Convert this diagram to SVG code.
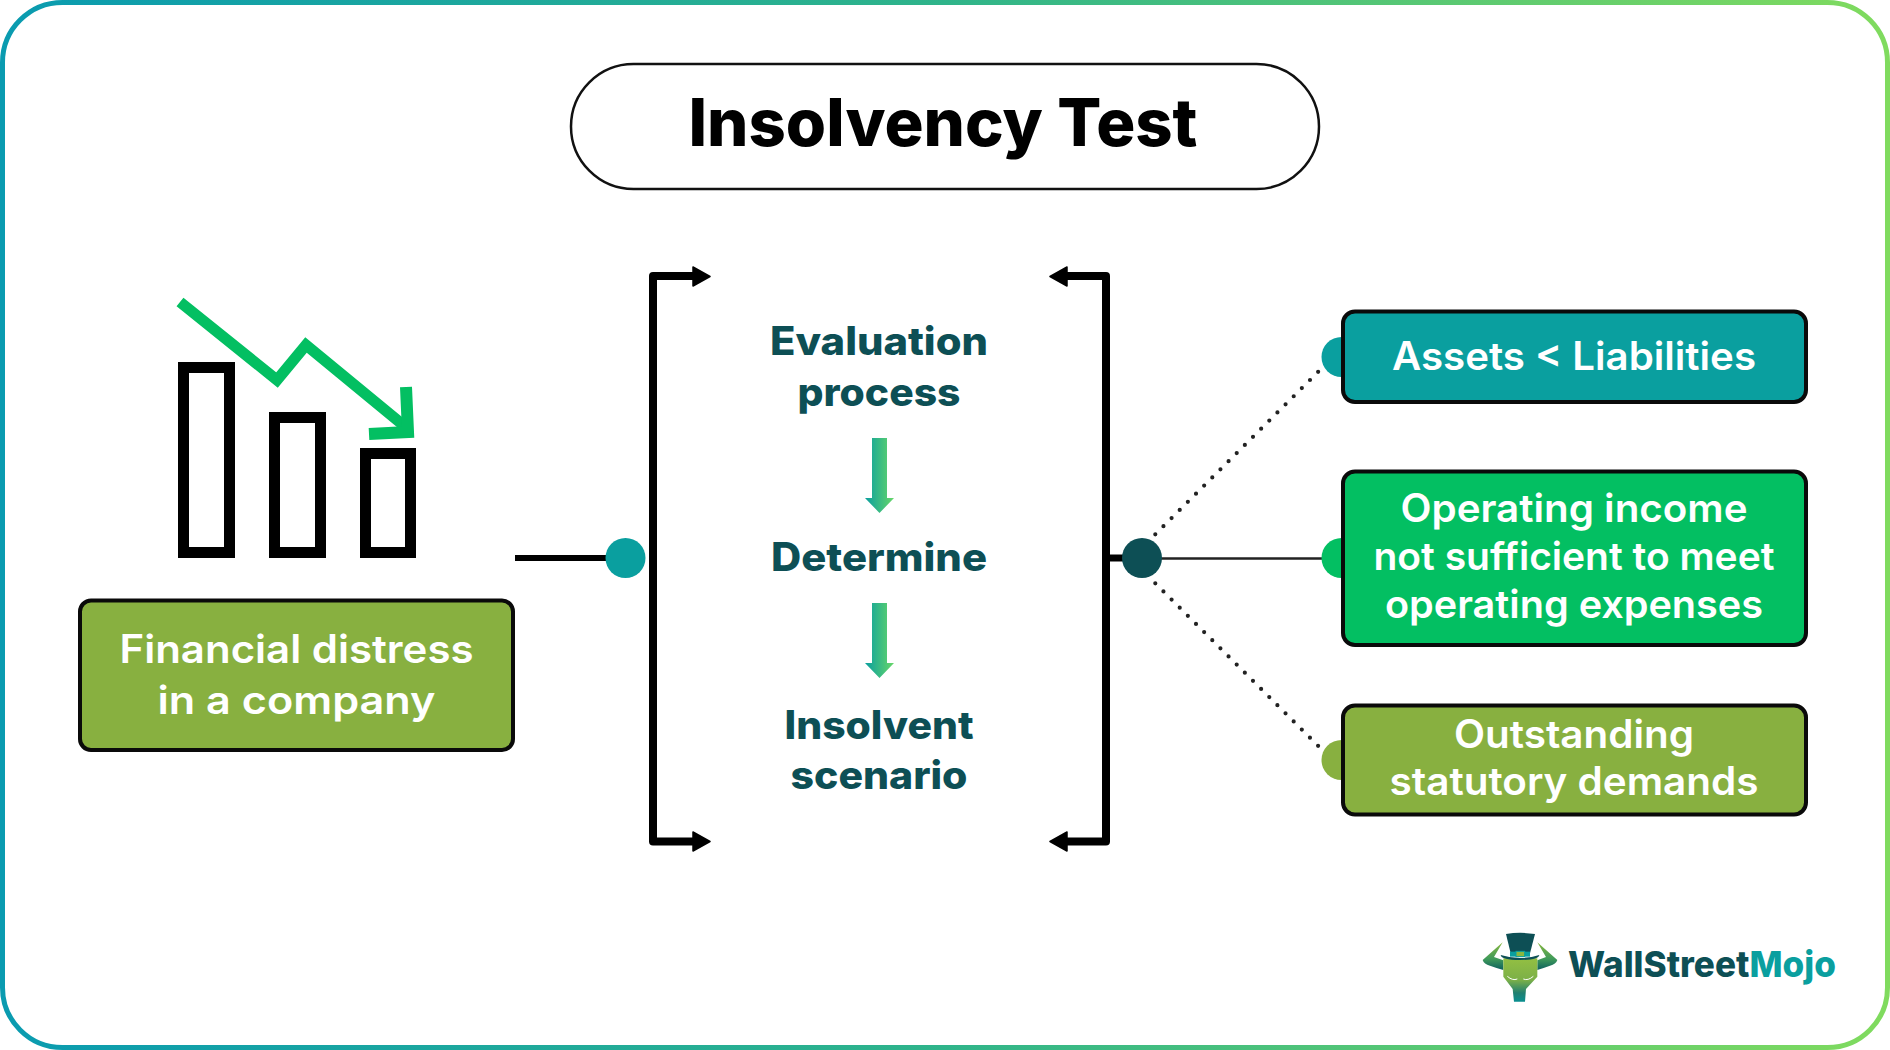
<svg xmlns="http://www.w3.org/2000/svg" width="1890" height="1050" viewBox="0 0 1890 1050">
<style>
text{font-family:"Inter","Liberation Sans",sans-serif;text-anchor:middle}
.w{fill:#fff;font-size:39px;font-weight:600}
.d{fill:#0d4f55;font-size:39px;font-weight:800}
.box{stroke:#0a0a0a;stroke-width:4}
.br{fill:none;stroke:#000;stroke-width:8;stroke-linejoin:round}
.bar{fill:#fff;stroke:#000;stroke-width:11}
.dot{fill:none;stroke:#222;stroke-width:4.2;stroke-linecap:round;stroke-dasharray:0 11.5}
</style>
<defs>
<linearGradient id="bg" x1="0" y1="0" x2="1" y2="0"><stop offset="0" stop-color="#0a9bb0"/><stop offset=".5" stop-color="#2fb48a"/><stop offset="1" stop-color="#80db5e"/></linearGradient>
<linearGradient id="ag" x1="0" y1="0" x2="1" y2="0"><stop offset="0" stop-color="#0a9f9f"/><stop offset="1" stop-color="#68d768"/></linearGradient>
<linearGradient id="face" x1="0" y1="0" x2="0" y2="1"><stop offset="0" stop-color="#93bf42"/><stop offset=".5" stop-color="#7cb048"/><stop offset=".8" stop-color="#1f7f70"/><stop offset="1" stop-color="#0a8f90"/></linearGradient>
<linearGradient id="horn" x1="0" y1="0" x2="0" y2="1"><stop offset="0" stop-color="#8ab840"/><stop offset=".6" stop-color="#3f9a5a"/><stop offset="1" stop-color="#0d5f5f"/></linearGradient>
</defs>
<rect width="1890" height="1050" fill="#fff"/>
<rect id="frame" x="2.500" y="2.500" width="1885" height="1045" rx="60" fill="#fff" stroke="url(#bg)" stroke-width="5"/>
<g id="title"><rect x="571" y="64" width="748" height="125" rx="62.500" fill="#fff" stroke="#111" stroke-width="2.500"/><text x="943" y="146" font-size="66" font-weight="800" fill="#000" textLength="509" lengthAdjust="spacingAndGlyphs">Insolvency Test</text></g>
<g id="chart-icon">
<rect class="bar" x="183.500" y="367.500" width="46" height="185"/>
<rect class="bar" x="274.500" y="417.500" width="46" height="135"/>
<rect class="bar" x="365.500" y="453.500" width="45" height="99"/>
<path d="M180 302 L277 380 L306 345 L408 429" fill="none" stroke="#03bf62" stroke-width="11"/>
<path d="M406 387 L408 432 L369 434" fill="none" stroke="#03bf62" stroke-width="12"/>
</g>
<g id="connectors">
<path d="M515 558H625" fill="none" stroke="#000" stroke-width="6"/>
<path d="M1110 558H1142" fill="none" stroke="#000" stroke-width="7"/>
<path d="M1142 558.500H1325" fill="none" stroke="#222" stroke-width="2.500"/>
<path class="dot" d="M1155.300 534.300L1318.300 371.700"/>
<path class="dot" d="M1155.300 583.300L1318.300 746"/>
<path class="br" d="M696 276H653V841.500H696"/>
<path class="br" d="M1064 276H1106V841.500H1064"/>
<path d="M693 267L710 276.500L693 286ZM693 832L710 841.500L693 851ZM1067 267L1050 276.500L1067 286ZM1067 832L1050 841.500L1067 851Z" fill="#000" stroke="#000" stroke-width="1.500" stroke-linejoin="round"/>
<circle cx="625.500" cy="558" r="20" fill="#0a9f9f"/>
<circle cx="1142" cy="558" r="20" fill="#0d4f55"/>
</g>
<g id="financial-distress"><rect class="box" x="80" y="600.500" width="433" height="149.500" rx="11" fill="#88b040"/><text class="w" x="296.500" y="663" textLength="354" lengthAdjust="spacingAndGlyphs">Financial distress</text><text class="w" x="296.500" y="714" textLength="278" lengthAdjust="spacingAndGlyphs">in a company</text></g>
<g id="evaluation"><text class="d" x="879" y="355" textLength="218" lengthAdjust="spacingAndGlyphs">Evaluation</text><text class="d" x="879" y="405.500" textLength="163" lengthAdjust="spacingAndGlyphs">process</text></g>
<path id="arrow-1" d="M872 438H887V498H894L879.500 513L865 498H872Z" fill="url(#ag)"/>
<g id="determine"><text class="d" x="879" y="571" textLength="216" lengthAdjust="spacingAndGlyphs">Determine</text></g>
<path id="arrow-2" d="M872 603H887V663H894L879.500 678L865 663H872Z" fill="url(#ag)"/>
<g id="insolvent"><text class="d" x="879" y="739" textLength="189" lengthAdjust="spacingAndGlyphs">Insolvent</text><text class="d" x="879" y="789" textLength="177" lengthAdjust="spacingAndGlyphs">scenario</text></g>
<g id="assets"><circle cx="1341.500" cy="357" r="20" fill="#0a9f9f"/><rect class="box" x="1343" y="311.500" width="463" height="90.500" rx="12" fill="#0a9f9f"/><text class="w" x="1574" y="369.500" textLength="364" lengthAdjust="spacingAndGlyphs">Assets &lt; Liabilities</text></g>
<g id="operating"><circle cx="1341.500" cy="558" r="20" fill="#03bf62"/><rect class="box" x="1343" y="471.500" width="463" height="173.500" rx="12" fill="#03bf62"/><text class="w" x="1574" y="522" textLength="347" lengthAdjust="spacingAndGlyphs">Operating income</text><text class="w" x="1574" y="569.500" textLength="401" lengthAdjust="spacingAndGlyphs">not sufficient to meet</text><text class="w" x="1574" y="617.500" textLength="378" lengthAdjust="spacingAndGlyphs">operating expenses</text></g>
<g id="statutory"><circle cx="1341.500" cy="760" r="20" fill="#88b040"/><rect class="box" x="1343" y="705.500" width="463" height="109" rx="12" fill="#88b040"/><text class="w" x="1574" y="748" textLength="240" lengthAdjust="spacingAndGlyphs">Outstanding</text><text class="w" x="1574" y="795" textLength="369" lengthAdjust="spacingAndGlyphs">statutory demands</text></g>
<g id="logo">
<g transform="translate(1480 915) scale(.3333)">
<path d="M68 82L8 135Q12 148 30 152Q52 160 70 165V136L42 126Z" fill="url(#horn)"/>
<path d="M172 82L232 135Q228 148 210 152Q188 160 172 165V136L198 126Z" fill="url(#horn)"/>
<path d="M70 130H172V185L138 222L135 260H102L98 222L70 185Z" fill="url(#face)"/>
<path d="M78 57Q120 50 165 57L150 115H92Z" fill="#0d4f55"/>
<path d="M62 120Q120 138 178 120Q176 135 120 135Q64 135 62 120Z" fill="#0d4f55"/>
<rect x="90" y="110" width="60" height="15" fill="#0a9f9f"/>
<rect x="108" y="109" width="26" height="16" fill="#8ab840" stroke="#0a9f9f" stroke-width="3"/>
<path d="M82 184Q98 198 112 192M160 184Q144 198 130 192" fill="none" stroke="#fff" stroke-width="3"/>
</g>
<text x="1702" y="977" font-size="36" font-weight="800" textLength="268" lengthAdjust="spacingAndGlyphs"><tspan fill="#0d4f55">WallStreet</tspan><tspan fill="#0a9f9f">Mojo</tspan></text>
</g>
</svg>
